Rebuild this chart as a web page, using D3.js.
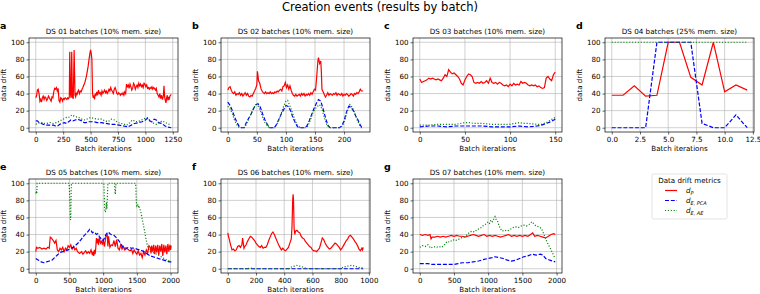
<!DOCTYPE html>
<html>
<head>
<meta charset="utf-8">
<script src="https://cdnjs.cloudflare.com/ajax/libs/d3/7.8.5/d3.min.js"></script>
<style>
  body { margin: 0; background: #fff; }
  text { font-family: "DejaVu Sans", sans-serif; fill: #000; }
</style>
</head>
<body>
<div id="chart"></div>
<script>
// ---- data ----
const panelLetters = ["a", "b", "c", "d", "e", "f", "g"];
const panelTitles = [
  "DS 01 batches (10% mem. size)",
  "DS 02 batches (10% mem. size)",
  "DS 03 batches (10% mem. size)",
  "DS 04 batches (25% mem. size)",
  "DS 05 batches (10% mem. size)",
  "DS 06 batches (10% mem. size)",
  "DS 07 batches (10% mem. size)"
];
const xTicks = [
  [0, 250, 500, 750, 1000, 1250],
  [0, 50, 100, 150, 200],
  [0, 50, 100, 150],
  [0, 2.5, 5, 7.5, 10, 12.5],
  [0, 500, 1000, 1500, 2000],
  [0, 200, 400, 600, 800, 1000],
  [0, 500, 1000, 1500, 2000]
];
const yTicks = [0, 20, 40, 60, 80, 100];
const legendTitle = "Data drift metrics";

// DS 01
const ds01_dP = [[0,35],[8,38],[15,44],[22,45],[30,40],[38,31],[45,33],[52,30],[60,35],[68,37],[76,33],[84,36],[92,35],[100,32],[108,34],[116,37],[124,35],[132,33],[140,31],[148,36],[156,35],[164,42],[172,46],[180,45],[188,47],[196,43],[204,46],[212,32],[220,30],[228,35],[236,34],[244,31],[252,34],[260,33],[268,35],[276,34],[284,33],[292,35],[300,34],[306,36],[310,89],[316,40],[322,35],[328,89],[334,36],[342,34],[350,91],[358,38],[364,36],[370,41],[376,38],[382,42],[390,44],[398,40],[406,43],[414,42],[422,45],[430,47],[438,50],[446,52],[454,56],[462,60],[470,66],[478,72],[486,80],[494,87],[500,91],[506,87],[512,80],[518,40],[524,35],[530,38],[536,33],[542,40],[548,37],[556,42],[564,38],[572,44],[580,40],[588,41],[596,38],[604,43],[612,40],[620,42],[628,44],[636,41],[644,43],[652,40],[660,42],[668,45],[676,43],[684,47],[692,44],[700,42],[708,40],[716,45],[724,47],[732,44],[740,40],[748,39],[756,41],[764,40],[772,38],[780,40],[788,39],[796,41],[804,38],[812,42],[820,40],[828,51],[836,48],[844,50],[852,46],[860,51],[868,48],[876,44],[884,46],[892,52],[900,50],[908,45],[916,48],[924,50],[932,47],[940,52],[948,49],[956,51],[964,48],[972,50],[980,47],[988,52],[996,51],[1004,48],[1012,50],[1020,46],[1028,47],[1036,45],[1044,47],[1052,46],[1060,48],[1068,45],[1076,47],[1084,46],[1092,44],[1100,46],[1108,40],[1116,38],[1124,36],[1132,40],[1140,34],[1148,38],[1156,33],[1164,37],[1170,49],[1176,36],[1182,32],[1188,29],[1194,35],[1200,38],[1206,32],[1212,36],[1218,33],[1224,37],[1230,38],[1236,39]];
const ds01_dPCA = [[0,8],[15,8],[30,6],[50,5],[70,4],[100,3],[130,3],[160,3],[180,2],[200,2],[220,4],[240,5],[260,6],[280,5],[300,7],[320,9],[340,8],[360,9],[380,10],[400,9],[420,8],[440,6],[460,6],[480,7],[500,7],[530,7],[560,6],[600,6],[640,5],[680,4],[720,4],[760,3],[800,2],[840,1],[870,3],[900,5],[940,6],[970,7],[1000,9],[1020,11],[1040,8],[1060,7],[1080,10],[1100,9],[1120,6],[1150,5],[1180,2],[1200,1],[1236,0]];
const ds01_dAE = [[0,4],[20,5],[40,6],[60,6],[80,5],[100,5],[130,6],[160,5],[190,6],[220,8],[250,10],[280,12],[300,12],[330,15],[360,13],[390,12],[420,10],[450,9],[480,11],[500,12],[530,11],[560,10],[600,10],[630,8],[660,7],[690,10],[720,9],[750,6],[780,5],[810,4],[830,3],[860,6],[880,9],[900,8],[920,7],[950,8],[980,10],[1000,11],[1020,12],[1040,9],[1060,6],[1080,5],[1100,4],[1130,6],[1150,8],[1170,7],[1200,5],[1236,3]];

// DS 02
const ds02_dP = [[0,44],[2,47],[4,48],[6,44],[8,41],[10,40],[12,42],[14,38],[16,40],[18,39],[20,41],[22,38],[24,40],[26,37],[28,39],[30,41],[32,38],[34,40],[36,37],[38,36],[40,38],[42,37],[44,40],[46,43],[48,46],[50,50],[51,66],[53,55],[55,52],[57,46],[59,43],[61,41],[63,40],[65,42],[67,40],[69,41],[71,40],[73,42],[75,40],[77,41],[79,40],[81,42],[83,41],[85,43],[87,42],[89,44],[91,45],[93,43],[95,48],[97,49],[99,53],[101,47],[103,50],[105,45],[107,49],[109,44],[111,40],[113,38],[115,37],[117,39],[119,37],[121,38],[123,39],[125,37],[127,40],[129,38],[131,40],[133,37],[135,39],[137,38],[139,40],[141,38],[143,41],[145,39],[147,42],[149,45],[151,44],[153,60],[155,78],[156,82],[158,75],[160,78],[161,65],[162,45],[164,42],[166,39],[168,36],[170,38],[172,41],[174,38],[176,40],[178,39],[180,38],[182,40],[184,39],[186,41],[188,38],[190,40],[192,39],[194,38],[196,40],[198,37],[200,39],[202,38],[204,40],[206,39],[208,37],[210,38],[212,40],[214,39],[216,37],[218,40],[220,39],[222,41],[224,40],[226,42],[228,45],[230,43],[233,43]];
const ds02_dPCA = [[0,30],[4,26],[8,20],[12,12],[16,6],[20,1],[24,0],[28,0],[32,6],[36,11],[40,16],[44,22],[48,27],[52,28],[56,24],[60,16],[64,9],[68,4],[72,0],[76,0],[80,0],[84,4],[88,10],[92,16],[96,21],[100,26],[104,25],[108,20],[112,12],[116,6],[120,1],[124,0],[132,0],[136,2],[140,8],[144,15],[148,22],[152,28],[156,33],[160,31],[164,22],[168,12],[172,3],[176,0],[184,0],[192,0],[196,2],[200,8],[204,18],[208,25],[212,24],[216,20],[220,14],[224,9],[228,3],[231,0],[233,0]];
const ds02_dAE = [[0,25],[4,22],[8,16],[12,8],[16,3],[20,0],[28,0],[32,4],[36,10],[40,16],[44,22],[48,27],[52,26],[56,20],[60,12],[64,6],[68,2],[72,0],[80,0],[84,3],[88,9],[92,17],[96,25],[100,31],[103,32],[106,27],[110,20],[114,12],[118,5],[122,1],[126,0],[134,0],[138,2],[142,9],[146,17],[150,22],[154,25],[158,27],[162,22],[166,12],[170,4],[174,0],[184,0],[194,0],[198,3],[202,10],[206,20],[210,27],[214,24],[218,18],[222,10],[226,4],[230,0],[233,0]];

// DS 03
const ds03_dP = [[0,57],[2,53],[4,54],[6,55],[8,56],[10,58],[12,57],[14,58],[16,57],[18,56],[20,57],[22,56],[24,55],[26,58],[28,62],[30,60],[32,68],[34,65],[36,63],[38,64],[40,62],[42,60],[44,57],[46,52],[48,50],[50,56],[52,60],[54,63],[56,62],[58,60],[60,53],[62,52],[64,53],[66,52],[68,54],[70,52],[72,53],[74,55],[76,52],[78,58],[80,53],[82,52],[84,53],[86,51],[88,53],[90,52],[92,50],[94,49],[96,50],[98,48],[100,51],[102,49],[104,52],[106,50],[108,51],[110,50],[112,54],[114,52],[116,53],[118,52],[120,50],[122,49],[124,50],[126,49],[128,50],[130,48],[132,49],[134,47],[136,46],[138,47],[140,58],[142,60],[144,57],[146,55],[148,62],[150,65]];
const ds03_dPCA = [[0,1],[10,2],[20,2],[30,1],[40,2],[50,2],[60,2],[70,2],[80,1],[90,1],[100,1],[110,2],[120,1],[130,2],[135,3],[140,5],[145,7],[150,10]];
const ds03_dAE = [[0,3],[10,3],[20,4],[30,4],[40,4],[50,6],[55,6],[60,5],[70,5],[80,4],[90,4],[100,4],[110,6],[115,5],[120,5],[130,4],[135,4],[140,6],[145,9],[150,12]];

// DS 04
const ds04_x = [0, 1, 2, 3, 4, 5, 6, 7, 8, 9, 10, 11, 12];
const ds04_dP = [38, 38, 49, 37, 38, 100, 100, 59, 50, 100, 42, 50, 44];
const ds04_dPCA = [0, 0, 0, 0, 100, 100, 100, 100, 5, 0, 0, 15, 0];
const ds04_dAE = [100, 100, 100, 100, 100, 100, 100, 100, 100, 100, 100, 100, 100];

// DS 05
const ds05_dP = [[0,20],[10,25],[30,24],[60,25],[90,23],[120,24],[150,23],[180,25],[200,24],[215,37],[230,36],[260,33],[280,30],[300,33],[320,22],[340,20],[360,24],[380,22],[400,25],[420,20],[440,24],[460,22],[480,27],[500,25],[520,28],[540,23],[560,26],[580,22],[600,24],[620,20],[650,18],[680,20],[700,17],[720,19],[740,21],[760,18],[780,20],[800,18],[820,22],[840,16],[850,20],[860,15],[870,22],[880,17],[890,24],[900,36],[910,30],[920,35],[930,28],[945,37],[960,30],[975,32],[990,28],[1000,35],[1010,30],[1020,26],[1040,38],[1060,40],[1070,26],[1080,38],[1100,25],[1120,28],[1140,27],[1160,33],[1180,26],[1200,34],[1220,24],[1240,22],[1260,28],[1280,23],[1300,26],[1320,22],[1350,24],[1380,22],[1400,21],[1420,23],[1440,18],[1460,22],[1480,19],[1500,17],[1520,21],[1540,16],[1560,18],[1580,13],[1600,20],[1620,16],[1640,22],[1660,18],[1680,27],[1700,25],[1710,18],[1720,27],[1735,20],[1750,28],[1765,17],[1780,27],[1795,19],[1810,28],[1825,16],[1840,27],[1855,20],[1870,29],[1885,15],[1900,28],[1915,19],[1930,27],[1945,17],[1960,29],[1975,20],[1990,28],[2000,22],[2010,27]];
const ds05_dPCA = [[0,12],[40,10],[80,8],[120,7],[160,8],[200,9],[240,10],[280,13],[320,16],[360,19],[400,20],[440,21],[480,22],[520,24],[560,25],[600,28],[640,31],[680,35],[720,39],[760,42],[800,46],[820,45],[840,42],[860,43],[880,42],[900,40],[920,41],[940,38],[960,36],[980,34],[1000,33],[1020,36],[1040,40],[1060,42],[1080,43],[1100,41],[1120,40],[1160,39],[1200,36],[1240,32],[1280,27],[1300,24],[1340,24],[1380,25],[1420,24],[1460,24],[1500,23],[1540,22],[1580,21],[1620,19],[1660,17],[1700,15],[1740,14],[1780,13],[1820,12],[1860,11],[1900,10],[1940,9],[1980,8],[2010,8]];
const ds05_dAE = [[0,88],[10,91],[15,88],[20,100],[100,100],[200,100],[300,100],[400,100],[495,100],[500,92],[505,80],[510,65],[515,57],[520,62],[525,90],[530,100],[700,100],[900,100],[1010,100],[1015,90],[1022,70],[1030,66],[1040,68],[1048,78],[1055,70],[1062,82],[1070,100],[1170,100],[1175,92],[1180,87],[1185,94],[1190,100],[1300,100],[1400,100],[1480,100],[1485,95],[1492,78],[1500,74],[1510,76],[1520,72],[1530,74],[1540,71],[1560,66],[1580,58],[1600,50],[1620,42],[1640,33],[1660,26],[1680,22],[1720,20],[1760,18],[1800,17],[1840,15],[1880,13],[1920,11],[1960,10],[2010,8]];

// DS 06
const ds06_dP = [[0,42],[5,38],[10,35],[20,28],[30,22],[40,23],[50,21],[60,22],[70,26],[80,27],[90,25],[100,28],[105,36],[110,30],[115,24],[120,26],[130,28],[140,32],[150,35],[160,38],[170,37],[180,35],[190,33],[200,30],[210,28],[220,26],[230,25],[240,27],[250,24],[260,25],[270,25],[280,28],[290,33],[300,37],[310,41],[320,43],[330,40],[340,36],[350,32],[360,28],[370,25],[380,22],[390,24],[400,22],[410,21],[420,23],[430,25],[440,30],[450,35],[455,48],[460,80],[463,87],[466,80],[470,48],[475,40],[480,44],[490,45],[500,43],[510,42],[520,38],[530,36],[540,35],[550,32],[560,30],[570,28],[580,26],[590,25],[600,22],[610,21],[620,21],[630,20],[640,22],[650,24],[660,30],[670,36],[680,34],[690,30],[700,27],[710,25],[720,23],[730,24],[740,26],[750,28],[760,30],[770,29],[780,27],[790,25],[800,22],[810,24],[820,27],[830,30],[840,33],[850,35],[860,38],[870,39],[880,37],[890,35],[900,32],[910,30],[920,27],[930,23],[940,21],[950,24],[955,22],[960,25]];
const ds06_dPCA = [[0,0],[200,0],[400,0],[600,0],[800,0],[960,0]];
const ds06_dAE = [[0,0],[140,0],[160,1],[180,0],[430,0],[450,2],[470,3],[490,4],[510,3],[530,2],[560,0],[800,0],[820,2],[850,3],[880,4],[900,3],[920,2],[940,1],[960,1]];

// DS 07
const ds07_dP = [[0,40],[40,39],[80,40],[120,39],[150,40],[165,35],[180,37],[220,37],[260,38],[300,37],[340,38],[380,37],[420,38],[460,39],[500,38],[540,39],[580,38],[620,38],[660,37],[700,38],[740,39],[780,40],[820,39],[860,38],[900,39],[940,40],[980,38],[1020,39],[1060,38],[1100,39],[1140,38],[1180,37],[1220,38],[1260,39],[1300,40],[1340,38],[1380,39],[1420,38],[1460,39],[1500,38],[1540,39],[1580,38],[1620,40],[1650,42],[1680,38],[1720,39],[1760,38],[1800,37],[1840,36],[1880,38],[1920,40],[1960,41],[1980,40]];
const ds07_dPCA = [[0,6],[60,6],[120,6],[180,5],[240,5],[300,5],[400,5],[500,5],[560,6],[620,7],[700,7],[780,8],[860,9],[940,11],[1000,12],[1060,13],[1100,14],[1160,13],[1220,12],[1280,10],[1340,9],[1400,10],[1460,12],[1520,14],[1580,15],[1640,17],[1700,16],[1760,17],[1800,16],[1840,12],[1900,10],[1940,9],[1980,8]];
const ds07_dAE = [[0,25],[40,27],[80,26],[120,28],[160,24],[200,26],[240,25],[280,26],[320,25],[360,28],[400,32],[440,31],[480,34],[520,33],[560,34],[600,36],[640,37],[680,39],[720,42],[760,44],[800,43],[840,46],[880,47],[920,50],[960,52],[1000,55],[1020,53],[1040,57],[1060,55],[1080,58],[1100,61],[1120,57],[1140,55],[1160,50],[1180,47],[1200,44],[1240,45],[1280,44],[1320,46],[1360,48],[1400,49],[1440,48],[1480,50],[1520,51],[1560,50],[1600,52],[1640,55],[1660,53],[1700,50],[1740,49],[1780,47],[1800,43],[1840,35],[1880,28],[1920,22],[1960,15],[1980,12]];

// pair up DS 04 columns so every panel has the same shape
const zip = (xs, ys) => xs.map((x, i) => [x, ys[i]]);
const panelSeries = [
  [ds01_dP, ds01_dPCA, ds01_dAE],
  [ds02_dP, ds02_dPCA, ds02_dAE],
  [ds03_dP, ds03_dPCA, ds03_dAE],
  [zip(ds04_x, ds04_dP), zip(ds04_x, ds04_dPCA), zip(ds04_x, ds04_dAE)],
  [ds05_dP, ds05_dPCA, ds05_dAE],
  [ds06_dP, ds06_dPCA, ds06_dAE],
  [ds07_dP, ds07_dPCA, ds07_dAE]
];

// ---- layout / style ----
var width = 760, height = 294;
var colLeft = [29, 221, 413, 605], axW = 149;
var rowTop = [38, 179], axH = 94;
var smallFont = "7.1px";
var seriesStyle = [
  {color: "#ff0000", dash: null},
  {color: "#0000ff", dash: "4,1.8"},
  {color: "#008000", dash: "1.1,1.8"}
];

var svg = d3.select("#chart").append("svg")
  .attr("width", width)
  .attr("height", height);

svg.append("text")
  .attr("x", 380).attr("y", 11)
  .attr("text-anchor", "middle")
  .style("font-size", "11.5px")
  .text("Creation events (results by batch)");

panelSeries.forEach(function (series, i) {
  var col = i < 4 ? i : i - 4;
  var row = i < 4 ? 0 : 1;
  var x0 = colLeft[col], y0 = rowTop[row];

  // matplotlib style 5% margin around the data
  var allX = series.flat().map(d => d[0]);
  var xmin = d3.min(allX), xmax = d3.max(allX);
  var pad = (xmax - xmin) * 0.05;
  var x = d3.scaleLinear().domain([xmin - pad, xmax + pad]).range([0, axW]);
  var y = d3.scaleLinear().domain([-5, 105]).range([axH, 0]);

  var g = svg.append("g").attr("transform", "translate(" + x0 + "," + y0 + ")");

  // grid
  g.append("g").selectAll("line").data(xTicks[i]).enter().append("line")
    .attr("x1", d => x(d)).attr("x2", d => x(d))
    .attr("y1", 0).attr("y2", axH)
    .attr("stroke", "#b0b0b0").attr("stroke-width", 0.6);
  g.append("g").selectAll("line").data(yTicks).enter().append("line")
    .attr("y1", d => y(d)).attr("y2", d => y(d))
    .attr("x1", 0).attr("x2", axW)
    .attr("stroke", "#b0b0b0").attr("stroke-width", 0.6);

  // lines
  g.append("clipPath").attr("id", "clip" + i)
    .append("rect").attr("width", axW).attr("height", axH);
  var line = d3.line().x(d => x(d[0])).y(d => y(d[1]));
  series.forEach(function (s, k) {
    g.append("path")
      .datum(s)
      .attr("clip-path", "url(#clip" + i + ")")
      .attr("d", line)
      .attr("fill", "none")
      .attr("stroke", seriesStyle[k].color)
      .attr("stroke-width", 1.2)
      .attr("stroke-dasharray", seriesStyle[k].dash);
  });

  // axes
  var fmt = i == 3 ? d3.format(".1f") : d3.format("d");
  var xAxis = g.append("g").attr("transform", "translate(0," + axH + ")")
    .call(d3.axisBottom(x).tickValues(xTicks[i]).tickFormat(fmt).tickSizeInner(2.5).tickSizeOuter(0).tickPadding(2));
  var yAxis = g.append("g")
    .call(d3.axisLeft(y).tickValues(yTicks).tickSizeInner(2.5).tickSizeOuter(0).tickPadding(2));
  [xAxis, yAxis].forEach(function (a) {
    a.select(".domain").remove();
    a.selectAll("line").attr("stroke-width", 0.6);
    a.selectAll("text").style("font-size", smallFont).style("font-family", "DejaVu Sans");
  });

  g.append("rect")
    .attr("width", axW).attr("height", axH)
    .attr("fill", "none").attr("stroke", "#000").attr("stroke-width", 0.7);

  g.append("text")
    .attr("x", axW / 2).attr("y", -4)
    .attr("text-anchor", "middle")
    .style("font-size", "7.2px")
    .text(panelTitles[i]);

  g.append("text")
    .attr("x", axW / 2).attr("y", axH + 19)
    .attr("text-anchor", "middle")
    .style("font-size", smallFont)
    .text("Batch iterations");

  g.append("text")
    .attr("transform", "translate(-23," + (axH / 2) + ") rotate(-90)")
    .attr("text-anchor", "middle")
    .style("font-size", smallFont)
    .text("data drift");

  g.append("text")
    .attr("x", -29).attr("y", -9)
    .style("font-size", "9.5px")
    .style("font-weight", "bold")
    .text(panelLetters[i]);
});

// legend in the empty 8th slot
var legendLabels = ["P", "E, PCA", "E, AE"];
var lg = svg.append("g").attr("transform", "translate(652,174)");
lg.append("rect")
  .attr("width", 75).attr("height", 45).attr("rx", 1.5)
  .attr("fill", "#fff").attr("stroke", "#d0d0d0").attr("stroke-width", 0.6);
lg.append("text")
  .attr("x", 37.5).attr("y", 8.5)
  .attr("text-anchor", "middle")
  .style("font-size", smallFont)
  .text(legendTitle);
legendLabels.forEach(function (lab, k) {
  var yy = 16.5 + k * 10;
  lg.append("line")
    .attr("x1", 13).attr("x2", 25)
    .attr("y1", yy).attr("y2", yy)
    .attr("stroke", seriesStyle[k].color)
    .attr("stroke-width", 1.2)
    .attr("stroke-dasharray", seriesStyle[k].dash);
  var t = lg.append("text")
    .attr("x", 34).attr("y", yy + 2.5)
    .style("font-size", smallFont)
    .style("font-style", "italic");
  t.append("tspan").text("d");
  t.append("tspan").attr("dy", 1.8).style("font-size", "5px").text(lab);
});
</script>
</body>
</html>
